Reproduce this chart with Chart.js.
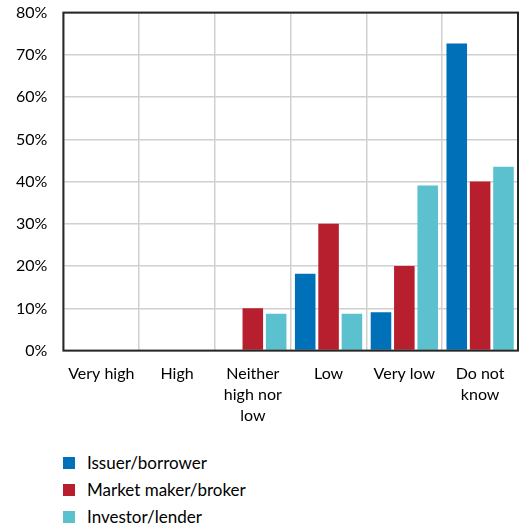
<!DOCTYPE html>
<html>
<head>
<meta charset="utf-8">
<script src="https://cdn.jsdelivr.net/npm/chart.js@4"></script>
<style>
  html, body { margin: 0; padding: 0; background: #fff; overflow: hidden; }
  #wrap { position: relative; width: 525px; height: 527px; overflow: hidden; }
  #chart { position: absolute; left: 0; top: -13px; }
  #legend { position: absolute; left: 63px; top: 449px; font: 17px Lato, sans-serif; color: #000; }
  #legend div { height: 27px; display: flex; align-items: center; }
  #legend span.box { display: inline-block; width: 12px; height: 12px; margin-right: 12px; }
</style>
</head>
<body>
<div id="wrap">
  <canvas id="chart" width="525" height="452"></canvas>
  <div id="legend"></div>
</div>
<script>
// ── Données ──
const categories = ['Very high', 'High', ['Neither', 'high nor', 'low'], 'Low', 'Very low', ['Do not', 'know']];
const issuer = [0, 0, 0, 18.2, 9.1, 72.7];
const marketMaker = [0, 0, 10, 30, 20, 40];
const investor = [0, 0, 8.7, 8.7, 39.1, 43.5];
const yTicks = [0, 10, 20, 30, 40, 50, 60, 70, 80];

const COLORS = ['#0070B8', '#B81F2E', '#5BC1CF'];

// cadre autour de la zone de tracé
const frame = {
  id: 'frame',
  afterDraw(chart) {
    const { ctx, chartArea: a } = chart;
    ctx.save();
    ctx.strokeStyle = '#262626';
    ctx.lineWidth = 2;
    ctx.strokeRect(a.left, a.top, a.right - a.left, a.bottom - a.top);
    ctx.restore();
  },
};

const chart = new Chart(document.getElementById('chart'), {
  type: 'bar',
  data: {
    labels: categories,
    datasets: [
      { label: 'Issuer/borrower', data: issuer, backgroundColor: COLORS[0] },
      { label: 'Market maker/broker', data: marketMaker, backgroundColor: COLORS[1] },
      { label: 'Investor/lender', data: investor, backgroundColor: COLORS[2] },
    ],
  },
  options: {
    responsive: false,
    animation: false,
    devicePixelRatio: 1,
    layout: { padding: { top: 4, right: 7, left: 0, bottom: 0 } },
    datasets: { bar: { categoryPercentage: 0.925, barPercentage: 0.88, borderWidth: 0 } },
    plugins: { legend: { display: false }, tooltip: { enabled: false } },
    scales: {
      x: {
        grid: { color: '#d0d0d0', lineWidth: 1.5, offset: true, drawTicks: false },
        border: { display: false },
        ticks: { color: '#000', font: { family: 'Lato', size: 16, lineHeight: 1.3 }, padding: 13, maxRotation: 0 },
      },
      y: {
        min: 0, max: 80,
        afterBuildTicks: (axis) => { axis.ticks = yTicks.map(v => ({ value: v })); },
        grid: { color: '#d0d0d0', lineWidth: 1.5, drawTicks: false },
        border: { display: false },
        ticks: { color: '#000', font: { family: 'Lato', size: 16 }, padding: 16, callback: v => v + '%' },
      },
    },
  },
  plugins: [frame],
});

// ── Légende HTML ──
document.getElementById('legend').innerHTML = chart.data.datasets
  .map(ds => `<div><span class="box" style="background:${ds.backgroundColor}"></span>${ds.label}</div>`)
  .join('');
</script>
</body>
</html>
